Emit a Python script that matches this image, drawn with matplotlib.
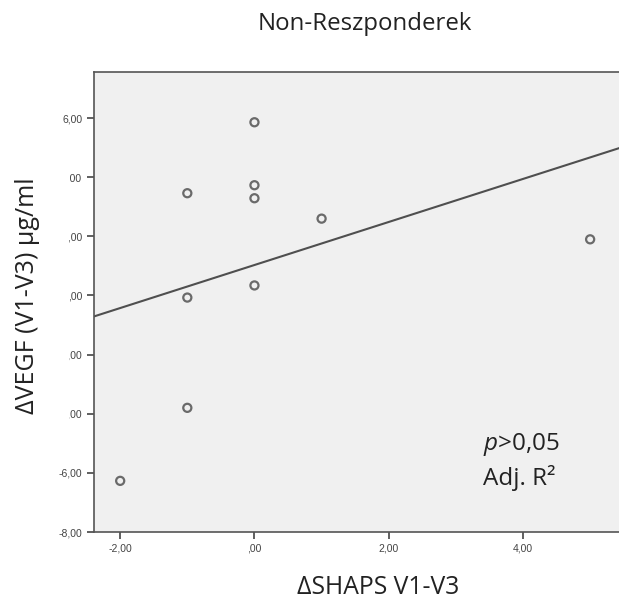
import numpy as np
import matplotlib.pyplot as plt
from matplotlib.ticker import FuncFormatter

plt.rcParams['mathtext.fontset'] = 'custom'
plt.rcParams['mathtext.it'] = 'Open Sans:italic'
plt.rcParams['mathtext.rm'] = 'Open Sans'

# Non-responders: change in SHAPS vs change in VEGF
shaps_delta = [-2, -1, -1, -1, 0, 0, 0, 0, 1, 5]
vegf_delta = [-6.27, 3.46, -0.07, -3.8, 5.86, 3.73, 3.29, 0.34, 2.6, 1.9]

x_ticks = [-2, 0, 2, 4]
y_ticks = [-8, -6, -4, -2, 0, 2, 4, 6]

W, H = 619, 600


def spss_fmt(v, pos=None):
    s = "%.2f" % v
    s = s.replace('.', ',')
    if s.startswith('0,'):
        s = s[1:]
    if s.startswith('-0,'):
        s = ',' + s[3:]
    return s


fig = plt.figure(figsize=(W / 100, H / 100), dpi=100)
ax = fig.add_axes([94 / W, 1 - 532 / H, 1 - 94 / W, (532 - 72) / H])
ax.set_facecolor('#f0f0f0')

ax.scatter(shaps_delta, vegf_delta, s=34, facecolors='none', edgecolors='#6a6a6a',
           linewidths=1.6, zorder=3)

fit = np.poly1d(np.polyfit(shaps_delta, vegf_delta, 1))
xl = np.array([-2.39, 5.43])
ax.plot(xl, fit(xl), color='#4f4f4f', lw=1.5, zorder=2)

ax.set_xlim(-2.39, 5.43)
ax.set_ylim(-8, 7.56)
ax.set_xticks(x_ticks)
ax.set_yticks(y_ticks)
ax.xaxis.set_major_formatter(FuncFormatter(spss_fmt))
ax.yaxis.set_major_formatter(FuncFormatter(spss_fmt))
ax.tick_params(labelsize=7.5, colors='#444444', length=5, width=1.2, direction='out',
               labelfontfamily='Liberation Sans')
for sp in ax.spines.values():
    sp.set_color('#555555')
    sp.set_linewidth(1.2)
ax.spines['right'].set_visible(False)

fig.text(483 / W, 1 - 445 / H, r'$p$>0,05', ha='left', va='center', fontsize=17.5,
         family='Open Sans', color='#222222')
fig.text(483 / W, 1 - 478 / H, 'Adj. R²', ha='left', va='center', fontsize=17.5,
         family='Open Sans', color='#222222')

fig.text(365 / W, 1 - 24 / H, 'Non-Reszponderek', ha='center', va='center',
         fontsize=17.3, family='Open Sans', color='#222222')
fig.text(378 / W, 1 - 587 / H, 'ΔSHAPS V1-V3', ha='center', va='center',
         fontsize=17.8, family='Open Sans', color='#222222')
fig.text(27 / W, 1 - 296 / H, 'ΔVEGF (V1-V3) µg/ml', ha='center', va='center',
         rotation=90, fontsize=18, family='Open Sans', color='#222222',
         bbox=dict(facecolor='white', edgecolor='none', pad=21), zorder=10)

fig.savefig('out.png', dpi=100)
